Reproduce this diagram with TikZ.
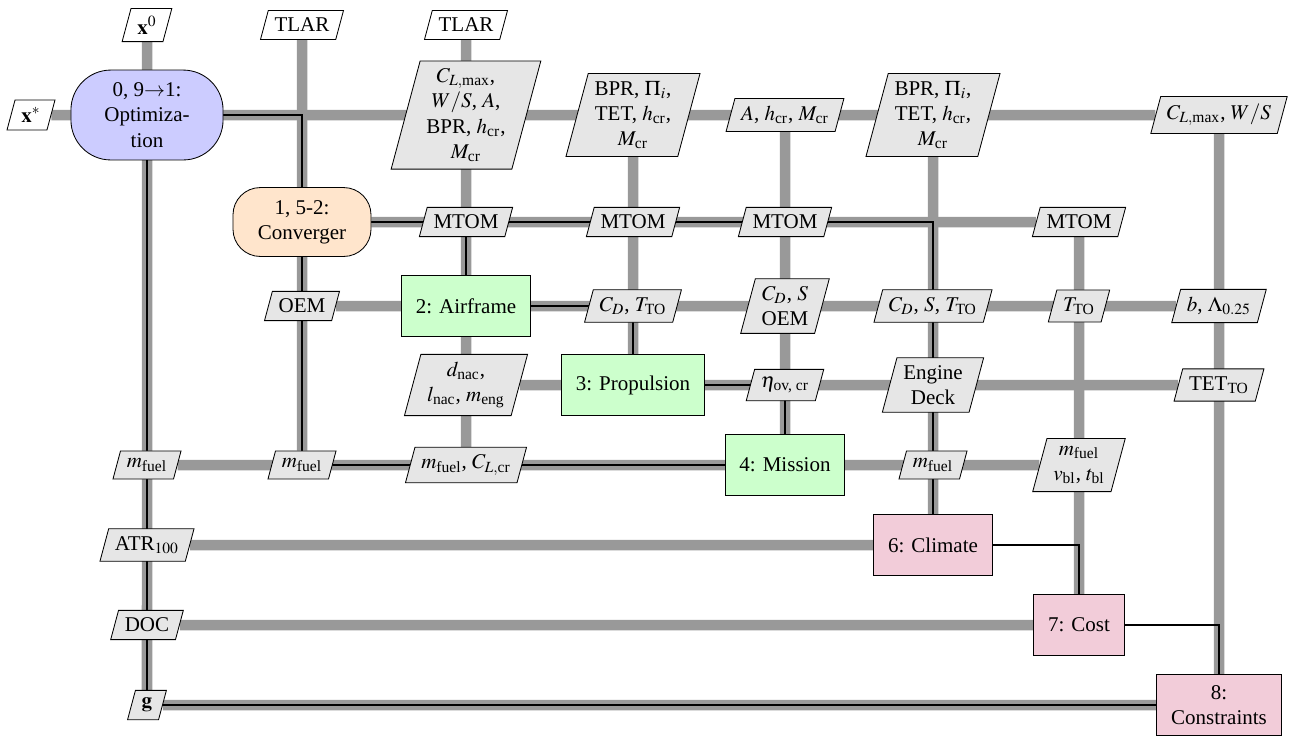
\documentclass[tikz,border=0pt]{standalone}
\usepackage{amsmath}
\usepackage{mathptmx}
\usepackage{fontspec}
\setmainfont{Liberation Serif}
\usepackage{xcolor}
\usepackage{tikz}
\usetikzlibrary{shapes.geometric,backgrounds}
\definecolor{optfill}{HTML}{CCCCFF}
\definecolor{convfill}{HTML}{FFE5CC}
\definecolor{discfill}{HTML}{CCFFCC}
\definecolor{postfill}{HTML}{F2CCD9}
\definecolor{datafill}{HTML}{E6E6E6}
\definecolor{pipe}{HTML}{999999}
\tikzset{
  func/.style={draw,align=center,inner xsep=6.8pt,inner ysep=3pt,minimum height=29pt},
  disc/.style={func,fill=discfill},
  post/.style={func,fill=postfill},
  driver/.style={draw,align=center,inner sep=3pt,rounded corners=#1},
  dataio/.style={draw,fill=datafill,trapezium,trapezium left angle=75,trapezium right angle=105,
    align=center,inner xsep=3pt,inner ysep=3.6pt},
  inp/.style={dataio,fill=white},
  pipeline/.style={draw=pipe,line width=5pt},
  proc/.style={draw=black,line width=1pt}
}

\begin{document}
\begin{tikzpicture}[x=0.476pt,y=-0.476pt]
 \useasboundingbox (0,0) rectangle (1293,736);
 % inputs
 \node[inp] (xinit) at (147,25) {$\mathbf{x}^{0}$};
 \node[inp] (tlarA) at (302,25) {TLAR};
 \node[inp] (tlarB) at (466,25) {TLAR};
 \node[inp] (xopt) at (31,115) {$\mathbf{x}^{*}$};
 % row 0
 \node[driver=19pt,fill=optfill,minimum width=72.4pt,minimum height=42.8pt] (opt) at (147,115) {0, 9$\rightarrow$1:\\Optimiza-\\tion};
 \node[dataio] (wingin) at (466,115) {$C_{L,\text{max}}$,\\$W/S$, $A$,\\BPR, $h_\text{cr}$,\\$M_\text{cr}$};
 \node[dataio] (engA) at (633,115) {BPR, $\Pi_i$,\\TET, $h_\text{cr}$,\\$M_\text{cr}$};
 \node[dataio] (missin) at (785,115) {$A$, $h_\text{cr}$, $M_\text{cr}$};
 \node[dataio] (engB) at (933,115) {BPR, $\Pi_i$,\\TET, $h_\text{cr}$,\\$M_\text{cr}$};
 \node[dataio] (consin) at (1219,115) {$C_{L,\text{max}}$, $W/S$};
 % row 1
 \node[driver=13pt,fill=convfill,minimum width=65.7pt,minimum height=32.8pt] (conv) at (302,222) {1, 5-2:\\Converger};
 \node[dataio] (mtomA) at (466,222) {MTOM};
 \node[dataio] (mtomB) at (633,222) {MTOM};
 \node[dataio] (mtomC) at (785,222) {MTOM};
 \node[dataio] (mtomD) at (1079,222) {MTOM};
 % row 2
 \node[dataio] (oem) at (302,306) {OEM};
 \node[disc] (airf) at (466,306) {2: Airframe};
 \node[dataio] (cdtt) at (633,306) {$C_D$, $T_\text{TO}$};
 \node[dataio] (cdsoem) at (785,306) {$C_D$, $S$\\OEM};
 \node[dataio] (cdstt) at (933,306) {$C_D$, $S$, $T_\text{TO}$};
 \node[dataio] (tto) at (1079,306) {$T_\text{TO}$};
 \node[dataio] (blam) at (1219,306) {$b$, $\Lambda_{0.25}$};
 % row 3
 \node[dataio] (nac) at (466,385) {$d_\text{nac}$,\\$l_\text{nac}$, $m_\text{eng}$};
 \node[disc] (prop) at (633,385) {3: Propulsion};
 \node[dataio] (eta) at (785,385) {$\eta_{\text{ov, cr}}$};
 \node[dataio] (deck) at (933,385) {Engine\\Deck};
 \node[dataio] (tetto) at (1219,385) {TET$_\text{TO}$};
 % row 4
 \node[dataio] (mfA) at (147,465) {$m_\text{fuel}$};
 \node[dataio] (mfB) at (302,465) {$m_\text{fuel}$};
 \node[dataio] (mfcl) at (466,465) {$m_\text{fuel}$, $C_{L,\text{cr}}$};
 \node[disc] (miss) at (785,465) {4: Mission};
 \node[dataio] (mfD) at (933,465) {$m_\text{fuel}$};
 \node[dataio] (mfvt) at (1079,465) {$m_\text{fuel}$\\$v_\text{bl}$, $t_\text{bl}$};
 % rows 5-7
 \node[dataio] (atr) at (147,545) {ATR$_{100}$};
 \node[post] (clim) at (933,545) {6: Climate};
 \node[dataio] (doc) at (147,625) {DOC};
 \node[post] (cost) at (1079,625) {7: Cost};
 \node[dataio] (gcon) at (147,705) {$\mathbf{g}$};
 \node[post] (cons) at (1219,705) {8:\\Constraints};

 \begin{scope}[on background layer]
  % data
  \draw[pipeline] (xopt) -- (consin); \draw[pipeline] (conv) -- (mtomD);
  \draw[pipeline] (oem) -- (blam); \draw[pipeline] (nac) -- (tetto);
  \draw[pipeline] (mfA) -- (mfvt); \draw[pipeline] (atr) -- (clim);
  \draw[pipeline] (doc) -- (cost); \draw[pipeline] (gcon) -- (cons);
  \draw[pipeline] (xinit) -- (gcon); \draw[pipeline] (tlarA) -- (mfB);
  \draw[pipeline] (tlarB) -- (mfcl); \draw[pipeline] (engA) -- (prop);
  \draw[pipeline] (missin) -- (miss); \draw[pipeline] (engB) -- (clim);
  \draw[pipeline] (mtomD) -- (cost); \draw[pipeline] (consin) -- (cons);
  % process
  \draw[proc] (opt) -| (conv); \draw[proc] (opt) |- (cons);
  \draw[proc] (conv) |- (miss); \draw[proc] (conv) -| (clim);
  \draw[proc] (conv) -| (airf); \draw[proc] (airf) -| (prop);
  \draw[proc] (prop) -| (miss); \draw[proc] (clim) -| (cost);
  \draw[proc] (cost) -| (cons);
 \end{scope}
\end{tikzpicture}
\end{document}
